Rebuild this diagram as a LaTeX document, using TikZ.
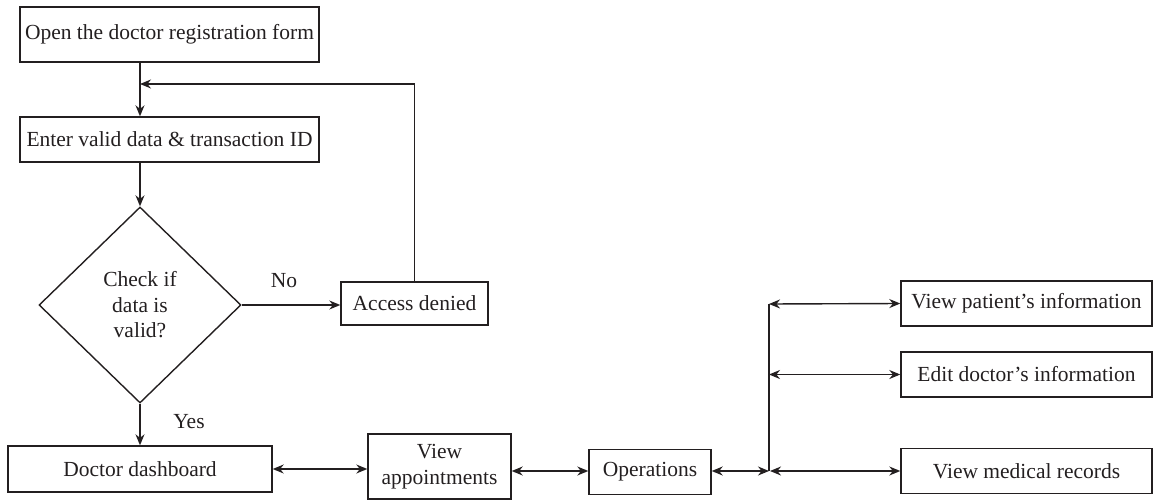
\documentclass[tikz,border=0pt]{standalone}
\usepackage{fontspec}
\setmainfont{Liberation Serif}
\usetikzlibrary{shapes.geometric,arrows.meta}

\definecolor{ink}{HTML}{231F20}

\tikzset{
  box/.style={draw=ink,line width=1.4pt,rectangle,inner sep=0pt,align=center,
    font=\fontsize{21.5}{25.5}\selectfont,text=ink},
  decision/.style={draw=ink,line width=1.4pt,diamond,inner sep=0pt,align=center,
    font=\fontsize{21.5}{25.5}\selectfont,text=ink,
    minimum width=202pt,minimum height=196pt},
  flow/.style={draw=ink,line width=1.4pt},
  lbl/.style={font=\fontsize{21.5}{25.5}\selectfont,text=ink}
}

\begin{document}
\begin{tikzpicture}[x=1pt,y=-1pt,>={Stealth[length=11pt,width=9pt]}]
  \useasboundingbox (0,0) rectangle (1153,500);
  % Registrering
  \node[box,minimum width=299pt,minimum height=55pt] (open) at (169.5,34.5) {Open the doctor registration form};
  \node[box,minimum width=299pt,minimum height=45pt] (enter) at (169.5,139.5) {Enter valid data \& transaction ID};
  \node[decision] (check) at (140,305) {Check if\\data is\\valid?};
  \node[box,minimum width=147pt,minimum height=43pt] (access) at (414.5,303.5) {Access denied};
  % Nederste rad
  \node[box,minimum width=264pt,minimum height=46pt] (dash) at (140,469) {Doctor dashboard};
  \node[box,minimum width=143pt,minimum height=65pt] (appts) at (439.5,466.5) {View\\appointments};
  \node[box,minimum width=122pt,minimum height=45pt] (ops) at (650,472) {Operations};
  % Valg til hoyre
  \node[box,minimum width=251pt,minimum height=45pt] (patient) at (1026.5,303.5) {View patient's information};
  \node[box,minimum width=251pt,minimum height=45pt] (editdoc) at (1026.5,374.5) {Edit doctor's information};
  \node[box,minimum width=251pt,minimum height=45pt] (records) at (1026.5,471) {View medical records};
  \coordinate (fb) at (140,84);
  \coordinate (jn) at (769,471);
  \coordinate (jtop) at (769,304);
  % Piler
  \draw[flow,->] (open.south -| check.north) -- (enter.north -| check.north);
  \draw[flow,->] (enter.south -| check.north) -- (check.north);
  \draw[flow,->] (check.east) -- (check.east -| access.west);
  \node[lbl] (no) at (284,281) {No};
  \draw[flow,->] (access.north) |- (fb);
  \draw[flow,->] (check.south) -- (dash.north);
  \node[lbl] (yes) at (189,422) {Yes};
  \draw[flow,<->] (dash.east) -- (dash.east -| appts.west);
  \draw[flow,<->] (appts.east |- jn) -- (ops.west |- jn);
  \draw[flow,<->] (ops.east |- jn) -- (jn);
  \draw[flow] (jn) -- (jtop);
  \draw[flow,<->] (jtop) -- (patient.west);
  \draw[flow,<->] (jn |- editdoc.west) -- (editdoc.west);
  \draw[flow,<->] ([xshift=1pt]jn) -- (records.west);
\end{tikzpicture}
\end{document}
